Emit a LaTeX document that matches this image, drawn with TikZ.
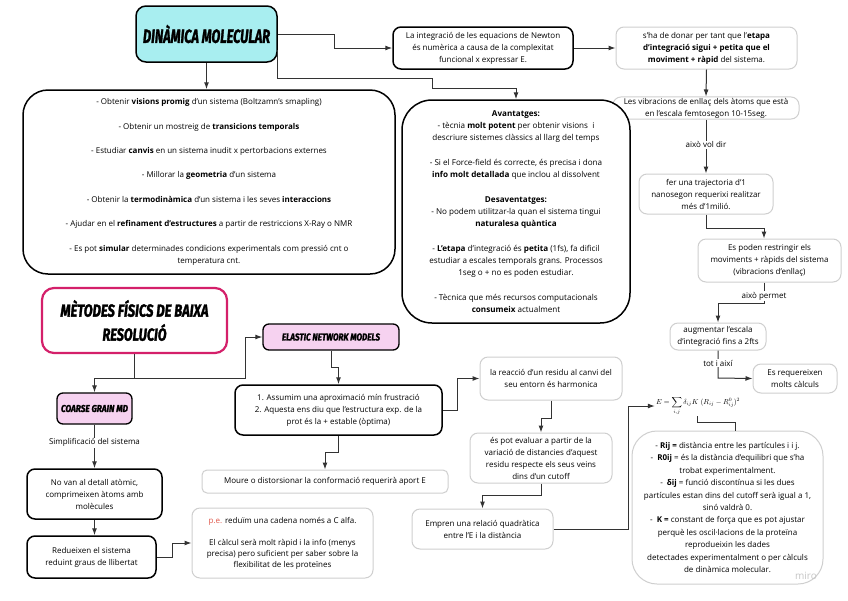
\documentclass[tikz,border=0pt]{standalone}
\usepackage{fontspec}
\usepackage{graphicx}
\setmainfont{Open Sans}
\newfontfamily\ttlfont{Fira Sans}[BoldItalicFeatures={FakeBold=2}]
\usetikzlibrary{arrows.meta}
\definecolor{cyanfill}{HTML}{A8EEF0}
\definecolor{pinkfill}{HTML}{F6D2F0}
\definecolor{magborder}{HTML}{D4206A}
\definecolor{graybd}{HTML}{CFCFCF}
\definecolor{lnk}{HTML}{333333}
\definecolor{redpe}{HTML}{E0574A}
\newcommand{\ttl}[3]{\resizebox{#1}{\height}{\fontsize{#2}{#2}\selectfont\ttlfont\bfseries\itshape #3}}
\tikzset{
 base/.style={rectangle, rounded corners=8pt, align=center, inner sep=2pt, font=\fontsize{8}{12}\selectfont, fill=white},
 blk/.style={base, draw=black, line width=1.5pt},
 gry/.style={base, draw=graybd, line width=1pt},
 lnkline/.style={draw=lnk, line width=1pt},
 arr/.style={lnkline, -{Latex[length=7pt,width=5pt]}},
 lbl/.style={fill=white, inner sep=1pt, font=\fontsize{8}{10}\selectfont},
}
\begin{document}
\begin{tikzpicture}[x=1pt,y=-1pt]
\fill[white] (0,0) rectangle (848,600);
\useasboundingbox (0,0) rectangle (848,600);

% ---- top
\node[blk, fill=cyanfill, minimum width=141pt, minimum height=56pt, rounded corners=10pt] (dm) at (206.5,34) {\ttl{127pt}{19}{DINÀMICA MOLECULAR}};
\node[blk, minimum width=180pt, minimum height=42pt] (newton) at (483,48) {La integració de les equacions de Newton\\és numèrica a causa de la complexitat\\funcional x expressar E.};
\node[gry, minimum width=181pt, minimum height=42pt] (shad) at (706.5,48) {s'ha de donar per tant que l'\textbf{etapa}\\\textbf{d'integració sigui + petita que el}\\\textbf{moviment + ràpid} del sistema.};
\node[gry, inner sep=1pt, minimum width=186pt, minimum height=22pt] (vib) at (706,108) {Les vibracions de enllaç dels àtoms que està\\en l'escala femtosegon 10-15seg.};
\node[gry, minimum width=134pt, minimum height=40pt] (fer) at (706,194) {fer una trajectoria d'1\\nanosegon requerixi realitzar\\més d'1milió.};
\node[gry, minimum width=143pt, minimum height=43pt] (esp) at (769.5,260.5) {Es poden restringir els\\moviments + ràpids del sistema\\(vibracions d'enllaç)};
\node[gry, minimum width=96pt, minimum height=27pt] (aug) at (718,336.5) {augmentar l'escala\\d'integració fins a 2fts};
\node[gry, minimum width=84pt, minimum height=29pt] (req) at (795,378.5) {Es requereixen\\molts càlculs};

\node[blk, minimum width=372pt, minimum height=184pt, rounded corners=25pt, font=\fontsize{8}{12.2}\selectfont] (big) at (209,182) {%
- Obtenir \textbf{visions promig} d'un sistema (Boltzamn's smapling)\\[12.2pt]
- Obtenir un mostreig de \textbf{transicions temporals}\\[12.2pt]
- Estudiar \textbf{canvis} en un sistema inudit x pertorbacions externes\\[12.2pt]
- Millorar la \textbf{geometria} d'un sistema\\[12.2pt]
- Obtenir la \textbf{termodinàmica} d'un sistema i les seves \textbf{interaccions}\\[12.2pt]
- Ajudar en el \textbf{refinament d'estructures} a partir de restriccions X-Ray o NMR\\[12.2pt]
- Es pot \textbf{simular} determinades condicions experimentals com pressió cnt o\\
temperatura cnt.};

\node[blk, minimum width=228pt, minimum height=223pt, rounded corners=30pt, font=\fontsize{8.1}{12.25}\selectfont] (avant) at (516,211.5) {%
\textbf{Avantatges:}\\
- tècnia \textbf{molt potent} per obtenir visions\ \ i\\
descriure sistemes clàssics al llarg del temps\\[12.25pt]
- Si el Force-field és correcte, és precisa i dona\\
\textbf{info molt detallada} que inclou al dissolvent\\[12.25pt]
\textbf{Desaventatges:}\\
- No podem utilitzar-la quan el sistema tingui\\
\textbf{naturalesa quàntica}\\[12.25pt]
- \textbf{L'etapa} d'integració és \textbf{petita} (1fs), fa dificil\\
estudiar a escales temporals grans. Processos\\
1seg o + no es poden estudiar.\\[12.25pt]
- Tècnica que més recursos computacionals\\
\textbf{consumeix} actualment};

% ---- bottom left
\node[blk, draw=magborder, line width=2.2pt, minimum width=185pt, minimum height=65pt, rounded corners=12pt, font=\fontsize{17}{24}\selectfont] (met) at (134.5,320.5) {\ttl{148pt}{17.5}{MÈTODES FÍSICS DE BAIXA}\\\ttl{64pt}{17.5}{RESOLUCIÓ}};
\node[blk, fill=pinkfill, line width=1.3pt, minimum width=75pt, minimum height=31pt, rounded corners=6pt] (cg) at (94.5,408.5) {\ttl{67pt}{10}{COARSE GRAIN MD}};
\node[blk, minimum width=135pt, minimum height=50pt] (novan) at (94.5,494) {No van al detall atòmic,\\comprimeixen àtoms amb\\molècules};
\node[blk, minimum width=129pt, minimum height=42pt] (redu) at (91.5,557) {Redueixen el sistema\\reduint graus de llibertat};
\node[gry, minimum width=181pt, minimum height=70pt, font=\fontsize{8}{11}\selectfont] (pe) at (282.5,543) {\textcolor{redpe}{p.e.} reduïm una cadena només a C alfa.\\[11pt]El càlcul serà molt ràpid i la info (menys\\precisa) pero suficient per saber sobre la\\flexibilitat de les proteïnes};

\node[blk, fill=pinkfill, line width=1.3pt, minimum width=136pt, minimum height=26pt, rounded corners=6pt] (enm) at (331,337) {\ttl{98pt}{10}{ELASTIC NETWORK MODELS}};
\node[blk, minimum width=207pt, minimum height=50pt] (assum) at (338.5,410) {1. Assumim una aproximació mín frustració\\2. Aquesta ens diu que l'estructura exp. de la\\prot és la + estable (òptima)};
\node[gry, minimum width=246pt, minimum height=23pt, rounded corners=5pt] (moure) at (325,481.5) {Moure o distorsionar la conformació requerirà aport E};
\node[gry, minimum width=142pt, minimum height=43pt] (reac) at (551,378.5) {la reacció d'un residu al canvi del\\seu entorn és harmonica};
\node[gry, minimum width=142pt, minimum height=50pt] (espot) at (541,458) {és pot evaluar a partir de la\\variació de distancies d'aquest\\residu respecte els seus veins\\dins d'un cutoff};
\node[gry, minimum width=141pt, minimum height=40pt] (empren) at (482.5,529) {Empren una relació quadràtica\\entre l'E i la distància};
\node[inner sep=1pt] (fml) at (698,406) {\resizebox{84pt}{!}{$E=\displaystyle\sum_{i,j}\delta_{ij}K\;(R_{ij}-R_{ij}^{0})^{2}$}};
\node[gry, minimum width=191pt, minimum height=153pt, rounded corners=25pt, font=\fontsize{8}{12.4}\selectfont] (rij) at (727.5,507.5) {%
- \textbf{Rij =} distància entre les partícules i i j.\\
-\ \ \textbf{R0ij} = és la distància d'equilibri que s'ha\\
trobat experimentalment.\\
-\ \ \textbf{δij} = funció discontínua si les dues\\
partícules estan dins del cutoff serà igual a 1,\\
sinó valdrà 0.\\
-\ \ \textbf{K =} constant de força que es pot ajustar\\
perquè les oscil·lacions de la proteïna\\
reprodueixin les dades\\
detectades experimentalment o per càlculs\\
de dinàmica molecular.};
\node[text=gray!45, font=\fontsize{10}{10}\selectfont] (miro) at (806,576) {miro};

% ---- connectors top
\draw[arr] (dm.east) -- (334,34) |- (newton.west);
\draw[arr] (dm.south) -- (dm.south |- big.north);
\draw[arr] ([yshift=-16pt]dm.east) |- (432,78) -- (432,88) -| (avant.north);
\draw[arr] (newton.east) -- (shad.west);
\draw[arr] (shad.south) -- (vib.north);
\draw[arr] (vib.south) -- node[lbl, pos=0.47] {això vol dir} (fer.north);
\draw[arr] (fer.south) -- (706,228) -| ([xshift=-5.5pt]esp.north);
\draw[arr] ([xshift=-5.5pt]esp.south) -- (764,303) -| (aug.north);
\node[lbl] (lperm) at (764,296) {això permet};
\draw[arr] (aug.south) -- (718,378) -- (req.west);
\node[lbl] (ltot) at (718,363) {tot i així};

% ---- connectors bottom
\draw[arr] (met.south) -- (134.5,378) -| (cg.north);
\draw[arr] (134.5,378) -- (245,378) |- (enm.west);
\draw[arr] (cg.south) -- node[lbl, pos=0.41] {Simplificació del sistema} (novan.north);
\draw[arr] (novan.south) -- (novan.south |- redu.north);
\draw[arr] (redu.east) -- (172,557) |- (pe.west);
\draw[arr] (enm.south) -- (331,367) -| (assum.north);
\draw[arr] (assum.south) -- (338.5,452) -| (moure.north);
\draw[arr] (assum.east) -- (457,410) |- (reac.west);
\draw[arr] (reac.south) -- (551,418) -| (espot.north);
\draw[arr] (espot.south) -- (541,495) -| (empren.north);
\draw[arr] (empren.east) -- (628,529) |- (fml.west);
\draw[lnkline] ([xshift=-1pt]fml.south) -- ++(0,6) -| ([xshift=7.5pt]rij.north);
\end{tikzpicture}
\end{document}
